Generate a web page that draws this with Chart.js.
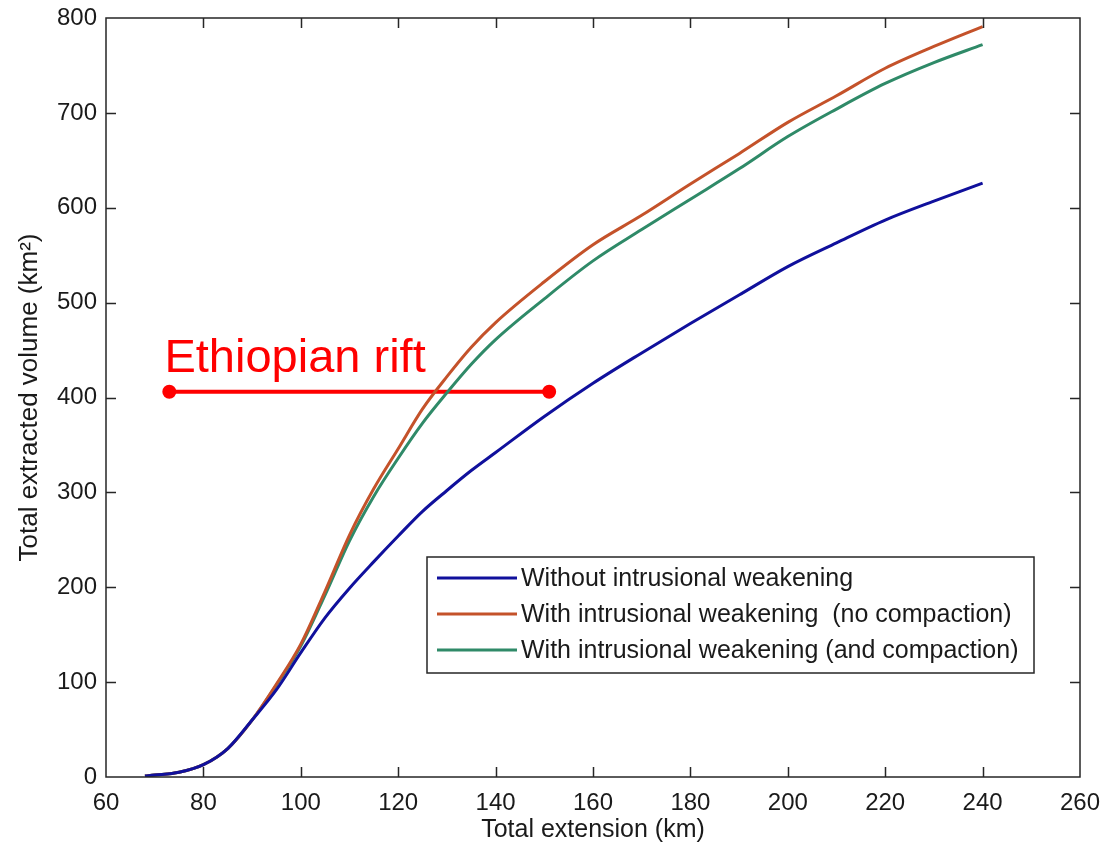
<!DOCTYPE html>
<html>
<head>
<meta charset="utf-8">
<script src="https://cdn.jsdelivr.net/npm/chart.js@4.4.0/dist/chart.umd.min.js"></script>
<style>
  html, body { margin: 0; padding: 0; background: #fff; }
  #wrap { width: 1113px; height: 846px; }
</style>
</head>
<body>
<div id="wrap"><canvas id="chart" width="1113" height="846"></canvas></div>
<script>
// 数据
const extension = [68, 70, 75, 80, 85, 90, 95, 100, 105, 110, 115, 120, 125, 130, 135, 140, 150, 160, 170, 180, 190, 200, 210, 220, 230, 240];
const volWithout = [1, 2, 5, 13, 30, 60, 92, 131, 168, 199, 227, 254, 280, 302, 323, 342, 380, 415, 447, 478, 508, 538, 563, 587, 607, 626];
const volNoCompaction = [1, 2, 5, 13, 30, 60, 98, 140, 196, 255, 304, 346, 388, 422, 453, 479, 522, 561, 592, 625, 657, 690, 718, 747, 770, 791];
const volCompaction = [1, 2, 5, 13, 30, 60, 97, 138, 192, 249, 296, 336, 373, 405, 435, 461, 504, 544, 577, 609, 641, 675, 704, 731, 753, 772];

const seriesLabels = [
    'Without intrusional weakening',
    'With intrusional weakening  (no compaction)',
    'With intrusional weakening (and compaction)'
];
const seriesColors = ['#10109c', '#c4522a', '#2f8a68'];

// 埃塞俄比亚裂谷范围
const riftExtension = [73, 151];
const riftVolume = [406, 406];
const riftLabel = 'Ethiopian rift';

const xTicks = [60, 80, 100, 120, 140, 160, 180, 200, 220, 240, 260];
const yTicks = [0, 100, 200, 300, 400, 500, 600, 700, 800];

const FONT = "'Liberation Sans', Arial, sans-serif";

const toPoints = (xs, ys) => xs.map((x, i) => ({ x, y: ys[i] }));

// 边框 + 向内刻度 + 图例 + 标注文字
const matlabAxes = {
    id: 'matlabAxes',
    afterDatasetsDraw(chart) {
        const { ctx, chartArea: a, scales: { x, y } } = chart;
        const tl = 10;
        ctx.save();
        ctx.strokeStyle = '#262626';
        ctx.lineWidth = 1.5;
        ctx.strokeRect(a.left, a.top, a.right - a.left, a.bottom - a.top);
        ctx.beginPath();
        xTicks.slice(1, -1).forEach(v => {
            const px = Math.round(x.getPixelForValue(v)) + 0.5;
            ctx.moveTo(px, a.bottom); ctx.lineTo(px, a.bottom - tl);
            ctx.moveTo(px, a.top); ctx.lineTo(px, a.top + tl);
        });
        yTicks.slice(1, -1).forEach(v => {
            const py = Math.round(y.getPixelForValue(v)) + 0.5;
            ctx.moveTo(a.left, py); ctx.lineTo(a.left + tl, py);
            ctx.moveTo(a.right, py); ctx.lineTo(a.right - tl, py);
        });
        ctx.stroke();

        // 标注文字
        ctx.fillStyle = '#ff0000';
        ctx.font = '47px ' + FONT;
        ctx.textAlign = 'left';
        ctx.textBaseline = 'alphabetic';
        ctx.fillText(riftLabel, x.getPixelForValue(72), y.getPixelForValue(427));

        // 图例
        const bw = 607, bh = 116;
        const bx = a.right - 46 - bw, by = a.bottom - 104 - bh;
        ctx.fillStyle = '#fff';
        ctx.fillRect(bx, by, bw, bh);
        ctx.strokeStyle = '#262626';
        ctx.lineWidth = 1.5;
        ctx.strokeRect(bx, by, bw, bh);
        ctx.font = '25px ' + FONT;
        ctx.textBaseline = 'middle';
        seriesLabels.forEach((lab, i) => {
            const ry = by + 21 + i * 36;
            ctx.strokeStyle = seriesColors[i];
            ctx.lineWidth = 3;
            ctx.beginPath();
            ctx.moveTo(bx + 10, ry); ctx.lineTo(bx + 90, ry);
            ctx.stroke();
            ctx.fillStyle = '#1a1a1a';
            ctx.fillText(lab, bx + 94, ry + 1);
        });
        ctx.restore();
    }
};

const curve = (i, data) => ({
    label: seriesLabels[i],
    data: toPoints(extension, data),
    borderColor: seriesColors[i],
    backgroundColor: seriesColors[i],
    borderWidth: 3,
    pointRadius: 0,
    cubicInterpolationMode: 'monotone',
    fill: false
});

new Chart(document.getElementById('chart'), {
    type: 'line',
    data: {
        datasets: [
            curve(0, volWithout),
            curve(1, volNoCompaction),
            curve(2, volCompaction),
            {
                label: riftLabel,
                data: toPoints(riftExtension, riftVolume),
                borderColor: '#ff0000',
                backgroundColor: '#ff0000',
                borderWidth: 4,
                pointRadius: 5,
                pointHoverRadius: 5,
                tension: 0
            }
        ]
    },
    options: {
        responsive: false,
        animation: false,
        layout: { padding: { top: 18, right: 33, left: 0, bottom: 0 } },
        plugins: { legend: { display: false }, tooltip: { enabled: false } },
        scales: {
            x: {
                type: 'linear',
                min: 60, max: 260,
                afterBuildTicks: s => { s.ticks = xTicks.map(v => ({ value: v })); },
                afterFit: s => { s.height = 69; },
                grid: { display: false },
                border: { display: false },
                ticks: { color: '#1a1a1a', font: { family: FONT, size: 24 }, padding: 4, maxRotation: 0 },
                title: { display: true, text: 'Total extension (km)', color: '#1a1a1a', font: { family: FONT, size: 25 }, padding: { top: 0, bottom: 1 } }
            },
            y: {
                type: 'linear',
                min: 0, max: 800,
                afterBuildTicks: s => { s.ticks = yTicks.map(v => ({ value: v })); },
                afterFit: s => { s.width = 106; },
                grid: { display: false },
                border: { display: false },
                ticks: { color: '#1a1a1a', font: { family: FONT, size: 24 }, padding: 1 },
                title: { display: true, text: 'Total extracted volume (km²)', color: '#1a1a1a', font: { family: FONT, size: 26 }, padding: { top: 14, bottom: 0 } }
            }
        }
    },
    plugins: [matlabAxes]
});
</script>
</body>
</html>
